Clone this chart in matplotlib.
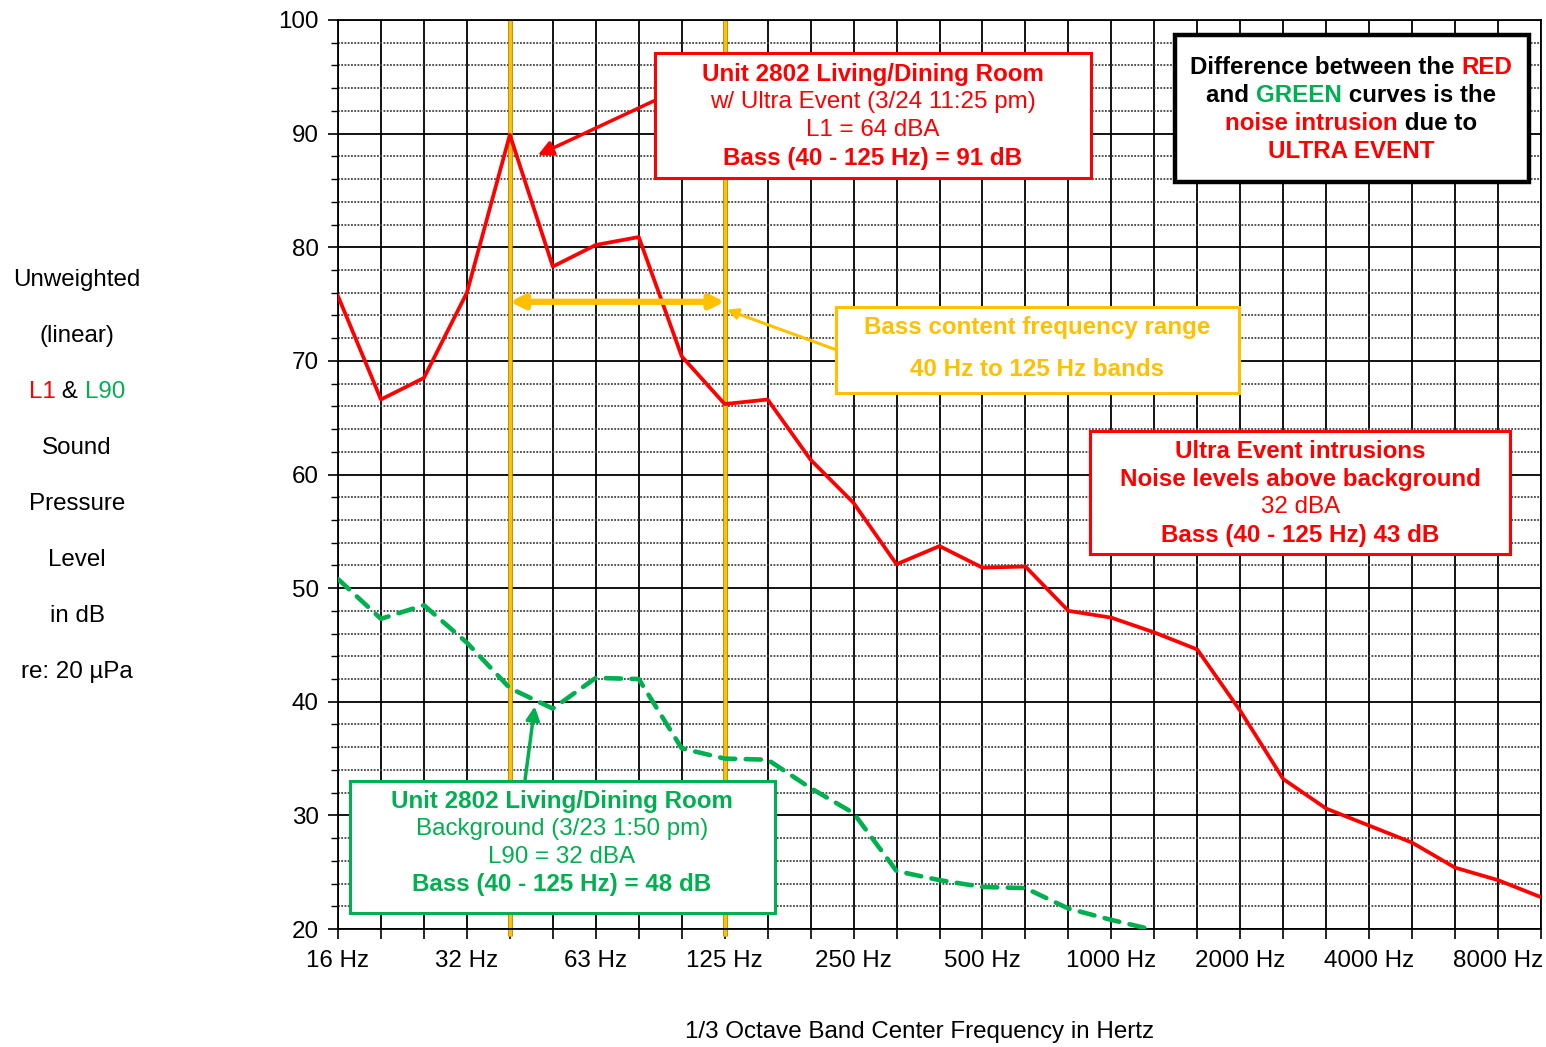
import matplotlib
matplotlib.use('Agg')
import matplotlib.pyplot as plt
import matplotlib.transforms as mtransforms
from matplotlib.patches import Rectangle

plt.rcParams['font.family'] = ['Liberation Sans', 'DejaVu Sans']

# 1/3 octave band centres (Hz)
bands = ['16', '20', '25', '31.5', '40', '50', '63', '80', '100', '125', '160', '200',
         '250', '315', '400', '500', '630', '800', '1000', '1250', '1600', '2000',
         '2500', '3150', '4000', '5000', '6300', '8000', '10000']
octave_labels = ['16 Hz', '32 Hz', '63 Hz', '125 Hz', '250 Hz', '500 Hz',
                 '1000 Hz', '2000 Hz', '4000 Hz', '8000 Hz']

# L1 with Ultra Event (red)
l1_event = [75.7, 66.6, 68.5, 76.0, 89.9, 78.3, 80.2, 80.9, 70.4, 66.2, 66.6, 61.3,
            57.5, 52.1, 53.7, 51.8, 51.9, 48.0, 47.4, 46.1, 44.6, 39.2, 33.2, 30.6,
            29.1, 27.6, 25.4, 24.3, 22.8]
# L90 background (green), 16 Hz .. 1250 Hz
l90_background = [50.8, 47.3, 48.5, 45.2, 41.2, 39.4, 42.1, 42.0, 35.9, 35.0, 34.9,
                  32.4, 30.2, 25.1, 24.3, 23.7, 23.6, 21.8, 20.8, 19.9]

RED = '#FF0000'
GREEN = '#00B050'
GOLD = '#FFC000'
FS = 17.4

fig = plt.figure(figsize=(15.46, 10.47), dpi=100)
ax = fig.add_axes([338 / 1546, 1 - 929 / 1047, (1541 - 338) / 1546, (929 - 20) / 1047])

x = list(range(len(bands)))
ax.set_xlim(0, len(bands) - 1)
ax.set_ylim(20, 100)

ax.set_xticks(x)
ax.set_xticklabels([octave_labels[i // 3] if i % 3 == 0 else '' for i in x], fontsize=FS)
ax.set_yticks(range(20, 101, 10))
ax.set_yticks(range(20, 101, 2), minor=True)
ax.tick_params(axis='y', which='major', labelsize=FS, length=7, width=1.2, pad=7)
ax.tick_params(axis='y', which='minor', length=5, width=1.0)
ax.tick_params(axis='x', which='major', length=7, width=1.2, pad=8)

ax.grid(True, axis='x', which='major', color='black', lw=1.3, zorder=0)
ax.grid(True, axis='y', which='major', color='black', lw=1.3, zorder=0)
ax.grid(True, axis='y', which='minor', color='#444444', lw=1.3, linestyle=(0, (1, 0.8)), zorder=0)
ax.set_axisbelow(True)
for s in ax.spines.values():
    s.set_linewidth(1.3)

# bass band limits (40 Hz and 125 Hz)
for b in ('40', '125'):
    i = bands.index(b)
    ax.plot([i, i], [19.4, 100], color='#B08000', lw=3.4, clip_on=False, zorder=2,
            solid_capstyle='butt')
    ax.plot([i, i], [19.4, 100], color=GOLD, lw=2.2, clip_on=False, zorder=2,
            solid_capstyle='butt')

ax.plot(x, l1_event, color=RED, lw=2.7, zorder=3)
ax.plot(x[:len(l90_background)], l90_background, color=GREEN, lw=3.3, zorder=3,
        dashes=(3.3, 2.3), dash_capstyle='round')

renderer = fig.canvas.get_renderer()


def text_width(s, weight):
    t = fig.text(0, 0, s + '|', fontsize=FS, fontweight=weight)
    w = t.get_window_extent(renderer).width
    t.remove()
    return w


def rich_line(xc, yc, parts, weight='normal', transform=None, zorder=6):
    """Centered line made of (text, colour) pieces."""
    if transform is None:
        transform = ax.transData
    bar = text_width('', weight)
    full = ''.join(p[0] for p in parts)
    total = text_width(full, weight) - bar
    prefix = ''
    for s, c in parts:
        off = text_width(prefix, weight) - bar - total / 2
        tr = mtransforms.offset_copy(transform, fig=fig, x=off, y=0, units='dots')
        fig.text(xc, yc, s, transform=tr, color=c, fontsize=FS, fontweight=weight,
                 ha='left', va='center', zorder=zorder)
        prefix += s


def box(x0, x1, y0, y1, edge, lw):
    ax.add_patch(Rectangle((x0, y0), x1 - x0, y1 - y0, facecolor='white',
                           edgecolor=edge, lw=lw, zorder=5))


# red annotation (event)
box(7.37, 17.53, 86.1, 97.1, RED, 2.2)
rich_line(12.44, 95.2, [('Unit 2802 Living/Dining Room', RED)], 'bold')
rich_line(12.44, 92.75, [('w/ Ultra Event (3/24 11:25 pm)', RED)])
rich_line(12.44, 90.3, [('L1 = 64 dBA', RED)])
rich_line(12.44, 87.85, [('Bass (40 - 125 Hz) = 91 dB', RED)], 'bold')
ax.annotate('', xy=(4.65, 88.1), xytext=(7.42, 93.0),
            arrowprops=dict(arrowstyle='-|>', color=RED, lw=2.5, mutation_scale=22,
                            shrinkA=0, shrinkB=0), zorder=4)

# black explanation box
box(19.47, 27.72, 85.7, 98.7, 'black', 3.2)
rich_line(23.58, 95.8, [('Difference between the ', 'black'), ('RED', RED)], 'bold')
rich_line(23.58, 93.35, [('and ', 'black'), ('GREEN', GREEN), (' curves is the', 'black')], 'bold')
rich_line(23.58, 90.9, [('noise intrusion', RED), (' due to', 'black')], 'bold')
rich_line(23.58, 88.45, [('ULTRA EVENT', RED)], 'bold')

# bass range
ax.annotate('', xy=(9.0, 75.2), xytext=(4.0, 75.2),
            arrowprops=dict(arrowstyle='<|-|>', color=GOLD, lw=4.5, mutation_scale=20,
                            shrinkA=0, shrinkB=0), zorder=4)
box(11.6, 20.98, 67.2, 74.75, GOLD, 2.2)
rich_line(16.28, 72.9, [('Bass content frequency range', GOLD)], 'bold')
rich_line(16.28, 69.2, [('40 Hz to 125 Hz bands', GOLD)], 'bold')
ax.annotate('', xy=(9.05, 74.5), xytext=(11.6, 70.97),
            arrowprops=dict(arrowstyle='-|>', color=GOLD, lw=2.2, mutation_scale=16,
                            shrinkA=0, shrinkB=0), zorder=4)

# intrusion summary
box(17.51, 27.28, 53.0, 63.85, RED, 2.2)
rich_line(22.4, 62.0, [('Ultra Event intrusions', RED)], 'bold')
rich_line(22.4, 59.55, [('Noise levels above background', RED)], 'bold')
rich_line(22.4, 57.1, [('32 dBA', RED)])
rich_line(22.4, 54.65, [('Bass (40 - 125 Hz) 43 dB', RED)], 'bold')

# green annotation (background)
box(0.28, 10.16, 21.4, 33.03, GREEN, 2.2)
rich_line(5.21, 31.25, [('Unit 2802 Living/Dining Room', GREEN)], 'bold')
rich_line(5.21, 28.8, [('Background (3/23 1:50 pm)', GREEN)])
rich_line(5.21, 26.35, [('L90 = 32 dBA', GREEN)])
rich_line(5.21, 23.9, [('Bass (40 - 125 Hz) = 48 dB', GREEN)], 'bold')
ax.annotate('', xy=(4.58, 39.6), xytext=(4.35, 33.03),
            arrowprops=dict(arrowstyle='-|>', color=GREEN, lw=2.5, mutation_scale=20,
                            shrinkA=0, shrinkB=0), zorder=4)

# y axis caption, one word group per line
ylab_lines = [[('Unweighted', 'black')], [('(linear)', 'black')],
              [('L1', RED), (' & ', 'black'), ('L90', GREEN)],
              [('Sound', 'black')], [('Pressure', 'black')], [('Level', 'black')],
              [('in dB', 'black')], [('re: 20 \u00b5Pa', 'black')]]
for k, parts in enumerate(ylab_lines):
    rich_line(77 / 1546, 1 - (280 + 56 * k) / 1047, parts, transform=fig.transFigure)

fig.text(920 / 1546, 1 - 1032 / 1047, '1/3 Octave Band Center Frequency in Hertz',
         fontsize=FS, ha='center', va='center')

fig.savefig('out.png', dpi=100)
